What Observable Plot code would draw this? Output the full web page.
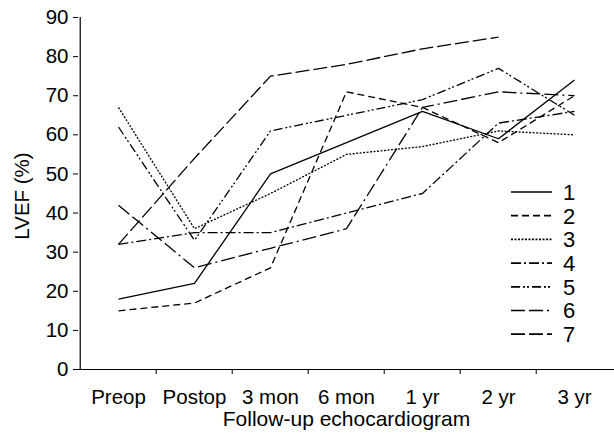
<!DOCTYPE html>
<html><head><meta charset="utf-8">
<script src="https://cdn.jsdelivr.net/npm/d3@7"></script>
<script src="https://cdn.jsdelivr.net/npm/@observablehq/plot@0.6"></script>
<style>
body{margin:0;background:#fff;}
#chart{position:relative;width:614px;height:439px;overflow:hidden;}
#chart svg{display:block;}
#legend{position:absolute;left:0;top:0;}
</style></head><body><div id="chart"></div>
<script>
const timepoints = ["Preop","Postop","3 mon","6 mon","1 yr","2 yr","3 yr"];
const seriesNames = ["1","2","3","4","5","6","7"];
const s1 = [18,22,50,58,66,59,74];
const s2 = [15,17,26,71,67,58,70];
const s3 = [67,36,45,55,57,61,60];
const s4 = [32,35,35,40,45,63,66];
const s5 = [62,33,61,65,69,77,65];
const s6 = [42,26,31,36,67,71,70];
const s7 = [32,54,75,78,82,85,null];
const yTicks = [0,10,20,30,40,50,60,70,80,90];
const xTitle = "Follow-up echocardiogram";
const yTitle = "LVEF (%)";

const allSeries = [s1,s2,s3,s4,s5,s6,s7];
const dashes = ["none","7,4","2,1.5","10,3,2,3","9,3,2,2,2,3","14,4,14,4,2,4","14,4"];
const rows = [];
allSeries.forEach((vals,k)=>vals.forEach((v,i)=>{ if(v!=null) rows.push({time:timepoints[i], series:seriesNames[k], value:v}); }));

const W=614,H=439,mL=78,mR=0,mT=17,mB=70;
const step=(W-mL-mR)/timepoints.length;
const font="Liberation Sans, Arial, Helvetica, sans-serif";

const marks=[
  Plot.ruleY([0],{stroke:"#000",strokeWidth:1.2}),
  Plot.ruleX([timepoints[0]],{dx:-step/2,stroke:"#000",strokeWidth:1.2}),
  Plot.axisY({ticks:yTicks,tickSize:5,tickPadding:5,fontSize:20.5,label:null}),
  Plot.axisX({ticks:timepoints.slice(1),tickSize:5,tickFormat:()=> "",dx:-step/2,label:null}),
  Plot.axisX({tickSize:0,tickPadding:20,fontSize:20.5,label:null}),
  Plot.text([xTitle],{frameAnchor:"bottom",dy:50,fontSize:21,lineAnchor:"middle"})
];
seriesNames.forEach((s,k)=>{
  marks.push(Plot.line(rows.filter(r=>r.series===s),{x:"time",y:"value",stroke:"#000",strokeWidth:1.3,strokeDasharray:dashes[k],strokeLinecap:"butt",strokeLinejoin:"miter"}));
});

const chart=Plot.plot({
  width:W,height:H,marginLeft:mL,marginRight:mR,marginTop:mT,marginBottom:mB,
  style:{fontFamily:font,fontSize:"20px",color:"#000",background:"#fff",overflow:"visible"},
  x:{type:"point",domain:timepoints,padding:0.5},
  y:{domain:[0,90]},
  marks
});
const root=document.getElementById("chart");
root.appendChild(chart);

// overlay: y title + legend
const lg=d3.select(root).append("svg").attr("id","legend").attr("width",W).attr("height",H);
lg.append("text").attr("transform","translate(22,196) rotate(-90)")
  .attr("text-anchor","middle").attr("dy","0.36em").attr("font-family",font).attr("font-size",20.5).text(yTitle);
seriesNames.forEach((s,k)=>{
  const y=192+23.7*k;
  lg.append("line").attr("x1",511).attr("x2",552).attr("y1",y).attr("y2",y)
    .attr("stroke","#000").attr("stroke-width",1.7).attr("stroke-dasharray",dashes[k]==="none"?null:dashes[k]);
  lg.append("text").attr("x",563).attr("y",y).attr("dy","0.36em").attr("font-family",font).attr("font-size",22).text(s);
});
</script></body></html>
